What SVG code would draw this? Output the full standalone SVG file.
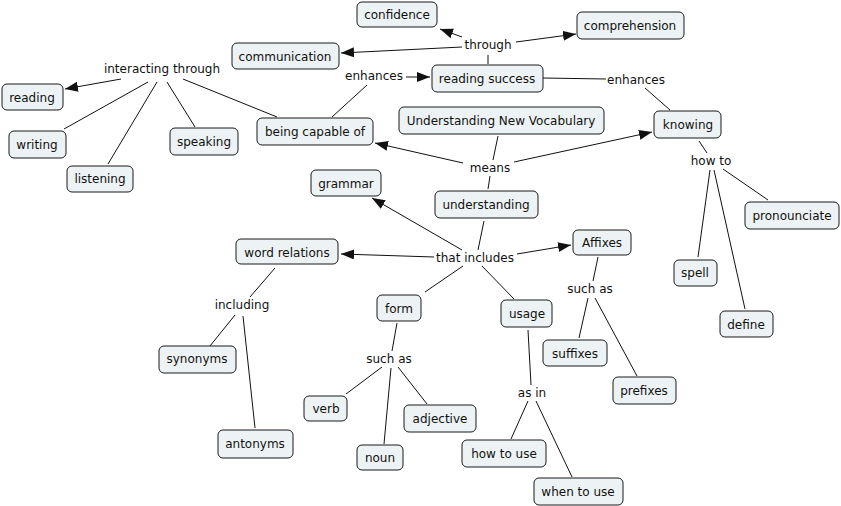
<svg xmlns="http://www.w3.org/2000/svg" width="841" height="506" viewBox="0 0 841 506">
<style>
.n rect{fill:#edf3f4;stroke:#1a1a1a;stroke-width:1}
text{font-family:"DejaVu Sans","Verdana",sans-serif;font-size:12px;fill:#111;text-anchor:middle;dominant-baseline:central}
.c line{stroke:#111;stroke-width:1}
.a{marker-end:url(#ah)}
</style>
<defs>
<marker id="ah" markerUnits="userSpaceOnUse" markerWidth="14" markerHeight="11" refX="13" refY="5" orient="auto">
<path d="M0,0 L13,5 L0,10 z" fill="#111"/>
</marker>
</defs>
<rect width="841" height="506" fill="#fff"/>
<g class="c" id="connectors">
<line x1="488" y1="64" x2="488" y2="55"/>
<line class="a" x1="462" y1="37" x2="440" y2="29"/>
<line class="a" x1="516" y1="42" x2="576" y2="34"/>
<line class="a" x1="462" y1="47" x2="341" y2="53"/>
<line x1="332" y1="117" x2="367" y2="85"/>
<line class="a" x1="406" y1="77" x2="430" y2="77"/>
<line x1="543" y1="78" x2="606" y2="79"/>
<line x1="645" y1="88" x2="670" y2="110"/>
<line class="a" x1="121" y1="79" x2="65" y2="89"/>
<line x1="148" y1="82" x2="64" y2="129"/>
<line x1="157" y1="82" x2="108" y2="164"/>
<line x1="167" y1="82" x2="195" y2="127"/>
<line x1="183" y1="79" x2="277" y2="117"/>
<line x1="498" y1="136" x2="493" y2="160"/>
<line class="a" x1="463" y1="163" x2="375" y2="143"/>
<line class="a" x1="514" y1="162" x2="652" y2="132"/>
<line x1="490" y1="176" x2="488" y2="189"/>
<line x1="484" y1="221" x2="478" y2="250"/>
<line class="a" x1="462" y1="250" x2="372" y2="198"/>
<line class="a" x1="434" y1="257" x2="341" y2="254"/>
<line class="a" x1="517" y1="254" x2="571" y2="245"/>
<line x1="463" y1="266" x2="425" y2="292"/>
<line x1="482" y1="266" x2="514" y2="299"/>
<line x1="275" y1="268" x2="250" y2="297"/>
<line x1="235" y1="315" x2="210" y2="346"/>
<line x1="243" y1="316" x2="255" y2="428"/>
<line x1="397" y1="323" x2="392" y2="351"/>
<line x1="382" y1="367" x2="346" y2="394"/>
<line x1="391" y1="368" x2="384" y2="444"/>
<line x1="398" y1="367" x2="427" y2="404"/>
<line x1="598" y1="257" x2="593" y2="281"/>
<line x1="588" y1="298" x2="579" y2="338"/>
<line x1="595" y1="298" x2="637" y2="376"/>
<line x1="528" y1="330" x2="531" y2="385"/>
<line x1="528" y1="401" x2="511" y2="439"/>
<line x1="536" y1="401" x2="572" y2="477"/>
<line x1="699" y1="141" x2="707" y2="153"/>
<line x1="723" y1="169" x2="768" y2="200"/>
<line x1="710" y1="170" x2="698" y2="257"/>
<line x1="714" y1="170" x2="745" y2="309"/>
</g>
<g id="labels">
<text x="488" y="45">through</text>
<text x="374" y="76">enhances</text>
<text x="636" y="80">enhances</text>
<text x="162" y="69">interacting through</text>
<text x="490" y="168">means</text>
<text x="475" y="258">that includes</text>
<text x="242" y="305">including</text>
<text x="389" y="359">such as</text>
<text x="590" y="289">such as</text>
<text x="532" y="393">as in</text>
<text x="711" y="161">how to</text>
</g>
<g class="n" id="n-confidence"><rect x="357" y="2" width="80" height="25" rx="5"/><text x="397" y="14.5">confidence</text></g>
<g class="n" id="n-comprehension"><rect x="577" y="12" width="107" height="27" rx="5"/><text x="630" y="25.5">comprehension</text></g>
<g class="n" id="n-communication"><rect x="232" y="43" width="107" height="26" rx="5"/><text x="285" y="56.5">communication</text></g>
<g class="n" id="n-reading-success"><rect x="432" y="65" width="111" height="27" rx="5"/><text x="487" y="78.5">reading success</text></g>
<g class="n" id="n-reading"><rect x="2" y="84" width="61" height="26" rx="5"/><text x="32" y="97.5">reading</text></g>
<g class="n" id="n-writing"><rect x="9" y="131" width="57" height="27" rx="5"/><text x="37" y="144.5">writing</text></g>
<g class="n" id="n-listening"><rect x="67" y="166" width="66" height="26" rx="5"/><text x="100" y="178.5">listening</text></g>
<g class="n" id="n-speaking"><rect x="170" y="128" width="68" height="27" rx="5"/><text x="204" y="141.5">speaking</text></g>
<g class="n" id="n-being-capable"><rect x="257" y="118" width="116" height="27" rx="5"/><text x="315" y="131.5">being capable of</text></g>
<g class="n" id="n-unv"><rect x="399" y="107" width="205" height="27" rx="5"/><text x="501" y="120.5">Understanding New Vocabulary</text></g>
<g class="n" id="n-knowing"><rect x="654" y="111" width="67" height="27" rx="5"/><text x="688" y="124.5">knowing</text></g>
<g class="n" id="n-grammar"><rect x="311" y="170" width="70" height="26" rx="5"/><text x="346" y="183.5">grammar</text></g>
<g class="n" id="n-understanding"><rect x="435" y="191" width="103" height="27" rx="5"/><text x="486" y="204.5">understanding</text></g>
<g class="n" id="n-pronounciate"><rect x="745" y="202" width="94" height="27" rx="5"/><text x="792" y="215.5">pronounciate</text></g>
<g class="n" id="n-affixes"><rect x="573" y="230" width="58" height="25" rx="5"/><text x="602" y="242.5">Affixes</text></g>
<g class="n" id="n-word-relations"><rect x="236" y="239" width="102" height="25" rx="5"/><text x="287" y="252.5">word relations</text></g>
<g class="n" id="n-spell"><rect x="674" y="260" width="43" height="26" rx="5"/><text x="695" y="272.5">spell</text></g>
<g class="n" id="n-define"><rect x="720" y="311" width="53" height="26" rx="5"/><text x="746" y="324.5">define</text></g>
<g class="n" id="n-form"><rect x="377" y="295" width="44" height="26" rx="5"/><text x="399" y="308.5">form</text></g>
<g class="n" id="n-usage"><rect x="501" y="300" width="51" height="27" rx="5"/><text x="527" y="313.5">usage</text></g>
<g class="n" id="n-suffixes"><rect x="543" y="340" width="64" height="26" rx="5"/><text x="575" y="353.5">suffixes</text></g>
<g class="n" id="n-synonyms"><rect x="159" y="346" width="77" height="27" rx="5"/><text x="197" y="358.5">synonyms</text></g>
<g class="n" id="n-prefixes"><rect x="613" y="377" width="63" height="27" rx="5"/><text x="644" y="390.5">prefixes</text></g>
<g class="n" id="n-verb"><rect x="304" y="396" width="43" height="25" rx="5"/><text x="326" y="408.5">verb</text></g>
<g class="n" id="n-adjective"><rect x="404" y="405" width="72" height="27" rx="5"/><text x="440" y="418.5">adjective</text></g>
<g class="n" id="n-antonyms"><rect x="218" y="430" width="75" height="28" rx="5"/><text x="255" y="443.5">antonyms</text></g>
<g class="n" id="n-how-to-use"><rect x="462" y="440" width="84" height="27" rx="5"/><text x="504" y="454">how to use</text></g>
<g class="n" id="n-noun"><rect x="357" y="445" width="46" height="25" rx="5"/><text x="380" y="457.5">noun</text></g>
<g class="n" id="n-when-to-use"><rect x="534" y="478" width="89" height="27" rx="5"/><text x="578" y="492">when to use</text></g>
</svg>
